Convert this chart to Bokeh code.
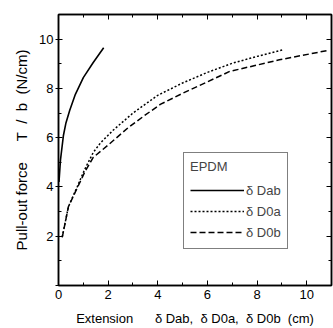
from bokeh.plotting import figure
from bokeh.models import (LinearAxis, FixedTicker, Legend, LegendItem, Range1d)
from bokeh.embed import file_html
from bokeh.resources import INLINE

# --- data ---
ext_ab = [0.02, 0.08, 0.2, 0.3, 0.45, 0.68, 1.0, 1.4, 1.82]
force_ab = [4.2, 5.1, 6.1, 6.6, 7.1, 7.76, 8.44, 9.05, 9.65]

ext_0a = [0.15, 0.4, 0.75, 1.05, 1.4, 1.7, 2.2, 3.0, 4.0, 5.0, 6.0, 7.0, 8.0, 9.05]
force_0a = [1.97, 3.2, 4.0, 4.7, 5.4, 5.8, 6.3, 7.0, 7.72, 8.22, 8.65, 9.02, 9.3, 9.57]

ext_0b = [0.15, 0.4, 0.75, 1.08, 1.4, 2.0, 2.8, 3.4, 4.1, 5.0, 5.6, 6.9, 8.9, 10.85]
force_0b = [1.95, 3.2, 3.95, 4.65, 5.2, 5.7, 6.4, 6.85, 7.35, 7.8, 8.08, 8.69, 9.16, 9.54]

x_ticks = [0, 2, 4, 6, 8, 10]
x_minor = [1, 3, 5, 7, 9, 11]
y_ticks = [0, 2, 4, 6, 8, 10]
y_minor = [1, 3, 5, 7, 9, 11]

legend_title = "EPDM"
legend_labels = ["δ Dab", "δ D0a", "δ D0b"]
NB = "\u00a0"
y_label = "Pull-out force" + NB * 5 + "T" + NB * 2 + "/" + NB * 2 + "b" + NB * 2 + "(N/cm)"
x_label = ("Extension" + NB * 6 + "δ" + NB + "Dab," + NB * 2 + "δ" + NB + "D0a," + NB * 2
           + "δ" + NB + "D0b" + NB * 2 + "(cm)")

FONT = "Liberation Sans"

p = figure(width=333, height=328, x_range=Range1d(0, 11), y_range=Range1d(0, 11),
           output_backend="svg", toolbar_location=None,
           min_border_left=58, min_border_right=2, min_border_top=14, min_border_bottom=42)
p.grid.visible = False
p.outline_line_color = "black"
p.outline_line_width = 1.5
p.background_fill_color = "white"
p.border_fill_color = "white"

r1 = p.line(ext_ab, force_ab, line_color="black", line_width=1.6)
r2 = p.line(ext_0a, force_0a, line_color="black", line_width=1.5, line_dash="2 2")
r3 = p.line(ext_0b, force_0b, line_color="black", line_width=1.5, line_dash="6 3")

# bottom axis
xa = p.below[0]
xa.ticker = FixedTicker(ticks=x_ticks, minor_ticks=x_minor)
xa.major_tick_in = 5
xa.major_tick_out = 0
xa.minor_tick_in = 3
xa.minor_tick_out = 0
xa.axis_line_width = 1.5
xa.major_label_text_font = FONT
xa.major_label_text_font_size = "13px"
xa.major_label_text_color = "black"
xa.major_label_standoff = 4
xa.axis_label = x_label
xa.axis_label_text_font = FONT
xa.axis_label_text_font_size = "13px"
xa.axis_label_text_font_style = "normal"
xa.axis_label_text_color = "black"
xa.axis_label_standoff = 9

# left axis
ya = p.left[0]
ya.ticker = FixedTicker(ticks=y_ticks, minor_ticks=y_minor)
ya.major_tick_in = 4
ya.major_tick_out = 3
ya.minor_tick_in = 3
ya.minor_tick_out = 0
ya.axis_line_width = 1.5
ya.major_label_text_font = FONT
ya.major_label_text_font_size = "13px"
ya.major_label_text_color = "black"
ya.major_label_overrides = {0: ""}
ya.major_label_standoff = 2
ya.axis_label = y_label
ya.axis_label_text_font = FONT
ya.axis_label_text_font_size = "15px"
ya.axis_label_text_font_style = "normal"
ya.axis_label_text_color = "black"
ya.axis_label_standoff = 6

# top and right axes: ticks only
ta = LinearAxis(ticker=FixedTicker(ticks=x_ticks, minor_ticks=x_minor),
                major_tick_in=5, major_tick_out=0, minor_tick_in=3, minor_tick_out=0,
                major_label_overrides={t: "" for t in x_ticks},
                major_label_standoff=0, axis_line_width=1.5)
ra = LinearAxis(ticker=FixedTicker(ticks=y_ticks, minor_ticks=y_minor),
                major_tick_in=5, major_tick_out=0, minor_tick_in=3, minor_tick_out=0,
                major_label_overrides={t: "" for t in y_ticks},
                major_label_standoff=0, axis_line_width=1.5)
p.add_layout(ta, "above")
p.add_layout(ra, "right")

legend = Legend(items=[LegendItem(label=legend_labels[0], renderers=[r1]),
                       LegendItem(label=legend_labels[1], renderers=[r2]),
                       LegendItem(label=legend_labels[2], renderers=[r3])],
                location=(125, 36), title=legend_title,
                title_text_font=FONT, title_text_font_size="13px", title_text_font_style="normal",
                title_standoff=6,
                label_text_font=FONT, label_text_font_size="13px",
                glyph_width=54, glyph_height=20, label_height=20, label_standoff=2,
                spacing=1, padding=6, margin=0,
                border_line_color="black", border_line_width=1.2,
                background_fill_alpha=1.0)
p.add_layout(legend, "center")

open("out.html", "w").write(file_html(p, INLINE))
